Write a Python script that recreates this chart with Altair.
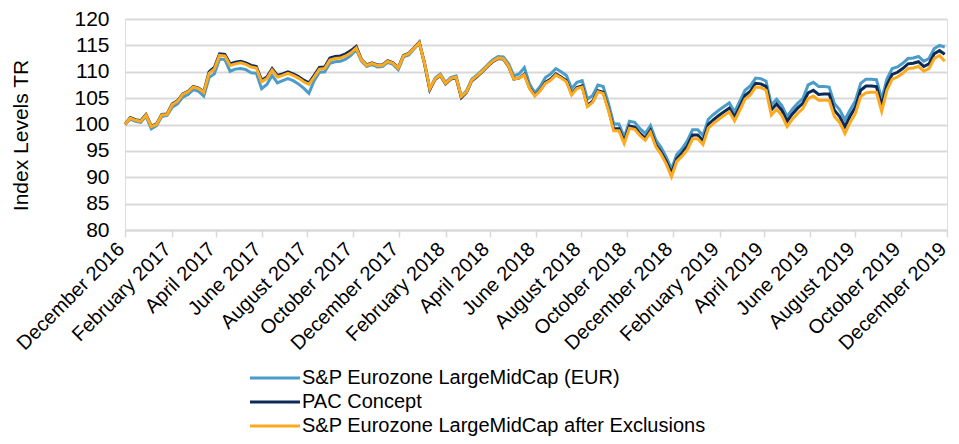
import altair as alt
import pandas as pd

# Weekly observations starting 1 Dec 2016
start_date = "2016-12-01"
n_weeks = 157

series_names = [
    "S&P Eurozone LargeMidCap (EUR)",
    "PAC Concept",
    "S&P Eurozone LargeMidCap after Exclusions",
]
series_colors = ["#4B9CC8", "#0B2A58", "#FFAA1E"]

eurozone = [
    100.0, 101.0, 100.6, 100.4, 101.6, 99.2, 99.8, 101.5, 101.7, 103.3,
    103.9, 105.2, 105.7, 106.6, 106.3, 105.4, 108.9, 109.6, 112.4, 112.3,
    110.1, 110.5, 110.6, 110.4, 109.8, 109.7, 106.8, 107.6, 109.3, 107.9,
    108.3, 108.7, 108.3, 107.7, 106.9, 105.9, 108.3, 109.9, 110.0, 111.6,
    111.9, 112.0, 112.4, 113.1, 114.2, 112.0, 111.0, 111.4, 110.9, 111.0,
    111.8, 111.4, 110.4, 112.8, 113.2, 114.3, 115.4, 111.8, 106.7, 108.8,
    109.6, 108.0, 108.9, 109.2, 105.4, 106.4, 108.6, 109.4, 110.3, 111.3,
    112.3, 112.9, 112.8, 111.5, 109.2, 109.6, 110.8, 107.6, 106.0, 107.2,
    108.9, 109.6, 110.6, 110.0, 109.3, 106.8, 108.0, 108.3, 104.8, 105.5,
    107.5, 107.2, 104.0, 100.1, 100.1, 97.6, 100.6, 100.4, 99.2, 98.3,
    99.8, 97.1, 95.7, 93.8, 91.6, 94.3, 95.4, 96.9, 99.0, 99.0,
    97.9, 101.0, 101.9, 102.7, 103.4, 104.1, 102.4, 104.4, 106.5, 107.3,
    108.8, 108.7, 108.2, 103.7, 104.8, 103.6, 101.5, 102.9, 104.0, 104.9,
    107.5, 108.0, 107.2, 107.2, 107.1, 104.0, 102.8, 100.9, 102.8, 104.5,
    107.8, 108.6, 108.6, 108.5, 104.8, 108.6, 110.6, 110.9, 111.6, 112.5,
    112.6, 112.9, 112.0, 112.5, 114.4, 115.0, 114.7,
]

pac = [
    100.0, 101.3, 100.9, 100.7, 101.9, 99.7, 100.1, 101.9, 102.0, 103.9,
    104.5, 105.8, 106.3, 107.2, 106.9, 106.2, 110.0, 110.8, 113.4, 113.3,
    111.5, 111.8, 112.0, 111.7, 111.2, 111.0, 108.4, 109.0, 110.6, 109.3,
    109.6, 110.0, 109.6, 109.1, 108.4, 107.9, 109.3, 110.8, 110.9, 112.6,
    112.9, 113.0, 113.4, 114.0, 114.8, 112.3, 111.3, 111.7, 111.3, 111.3,
    112.1, 111.7, 110.8, 113.1, 113.5, 114.5, 115.6, 111.5, 106.6, 108.5,
    109.3, 107.7, 108.6, 108.9, 105.1, 106.1, 108.3, 109.1, 110.0, 111.0,
    111.9, 112.5, 112.4, 111.0, 108.6, 108.8, 109.5, 106.9, 105.5, 106.5,
    108.0, 108.6, 109.6, 109.0, 108.3, 105.8, 107.0, 107.3, 103.6, 104.4,
    106.4, 106.1, 102.9, 99.2, 99.2, 96.8, 99.7, 99.5, 98.3, 97.4,
    98.9, 96.2, 94.8, 93.0, 90.8, 93.5, 94.6, 95.9, 98.0, 98.0,
    96.9, 100.0, 100.9, 101.7, 102.4, 103.1, 101.4, 103.4, 105.5, 106.3,
    107.8, 107.7, 107.2, 102.8, 103.9, 102.7, 100.6, 102.0, 103.1, 104.0,
    106.0, 106.5, 105.7, 105.8, 105.8, 102.7, 101.5, 99.6, 101.6, 103.3,
    106.5, 107.3, 107.3, 107.2, 103.6, 107.5, 109.5, 109.9, 110.6, 111.5,
    111.6, 111.9, 111.0, 111.5, 113.4, 114.0, 113.3,
]

after_exclusions = [
    100.0, 101.2, 100.8, 100.6, 101.8, 99.6, 100.0, 101.8, 101.9, 103.8,
    104.4, 105.7, 106.2, 107.1, 106.8, 106.1, 109.7, 110.5, 113.1, 113.0,
    111.2, 111.5, 111.7, 111.4, 110.9, 110.7, 108.1, 108.7, 110.3, 109.0,
    109.3, 109.7, 109.3, 108.8, 108.1, 107.6, 109.0, 110.5, 110.6, 112.2,
    112.5, 112.6, 113.0, 113.6, 114.5, 112.2, 111.2, 111.6, 111.2, 111.2,
    112.0, 111.6, 110.7, 113.0, 113.4, 114.4, 115.5, 111.6, 106.8, 108.6,
    109.4, 107.8, 108.7, 109.0, 105.3, 106.2, 108.4, 109.2, 110.1, 111.1,
    112.0, 112.6, 112.5, 111.1, 108.6, 108.8, 109.4, 106.8, 105.4, 106.4,
    107.8, 108.4, 109.4, 108.8, 108.1, 105.6, 106.8, 107.1, 103.4, 104.2,
    106.2, 105.9, 102.7, 98.8, 98.8, 96.4, 99.3, 99.1, 97.9, 97.0,
    98.5, 95.8, 94.4, 92.5, 90.1, 93.0, 94.0, 95.2, 97.3, 97.3,
    96.2, 99.3, 100.2, 101.0, 101.7, 102.4, 100.7, 102.7, 104.8, 105.6,
    107.1, 107.0, 106.5, 101.8, 102.9, 101.7, 99.6, 101.0, 102.1, 103.0,
    104.9, 105.4, 104.6, 104.6, 104.6, 101.5, 100.4, 98.3, 100.4, 102.1,
    105.3, 106.0, 106.1, 106.1, 102.5, 106.5, 108.6, 109.0, 109.7, 110.6,
    110.7, 111.0, 110.1, 110.6, 112.5, 113.1, 112.0,
]

y_ticks = [80, 85, 90, 95, 100, 105, 110, 115, 120]
x_tick_months = [
    (2016, 12), (2017, 2), (2017, 4), (2017, 6), (2017, 8), (2017, 10),
    (2017, 12), (2018, 2), (2018, 4), (2018, 6), (2018, 8), (2018, 10),
    (2018, 12), (2019, 2), (2019, 4), (2019, 6), (2019, 8), (2019, 10),
    (2019, 12),
]

dates = pd.date_range(start_date, periods=n_weeks, freq="7D")
frames = []
for name, vals in zip(series_names, [eurozone, pac, after_exclusions]):
    frames.append(pd.DataFrame({"date": dates, "value": vals, "series": name}))
df = pd.concat(frames, ignore_index=True)

FONT = "Liberation Sans"

x_enc = alt.X(
    "date:T",
    scale=alt.Scale(domain=[alt.DateTime(year=2016, month=12, date=1),
                            alt.DateTime(year=2019, month=12, date=1)], nice=False),
    axis=alt.Axis(
        values=[alt.DateTime(year=y, month=m, date=1) for y, m in x_tick_months],
        format="%B %Y",
        labelAngle=-45,
        labelAlign="right",
        labelBaseline="alphabetic",
        labelPadding=13,
        labelOffset=0,
        labelFontSize=20,
        labelColor="#000000",
        labelFont=FONT,
        labelOverlap=False,
        labelBound=False,
        labelFlush=False,
        grid=False,
        domainColor="#D9D9D9",
        domainWidth=2,
        tickColor="#D9D9D9",
        tickWidth=1.5,
        tickSize=7,
        title=None,
    ),
)

y_enc = alt.Y(
    "value:Q",
    scale=alt.Scale(domain=[80, 120], nice=False, zero=False),
    axis=alt.Axis(
        values=y_ticks,
        title="Index Levels TR",
        titleFontSize=21,
        titleFontWeight="normal",
        titleFont=FONT,
        titleColor="#000000",
        titleX=-104,
        titleY=116,
        titleAlign="center",
        titleBaseline="middle",
        titleAngle=270,
        labelFontSize=21,
        labelFont=FONT,
        labelColor="#000000",
        labelPadding=16,
        ticks=False,
        domain=False,
        grid=True,
        gridColor="#D9D9D9",
        gridWidth=2,
    ),
)

color_enc = alt.Color(
    "series:N",
    scale=alt.Scale(domain=series_names, range=series_colors),
    legend=alt.Legend(
        title=None,
        orient="none",
        legendX=140,
        legendY=349,
        direction="vertical",
        symbolType="M-5,0H5",
        symbolSize=100,
        symbolStrokeWidth=3,
        labelFontSize=20,
        labelFont=FONT,
        labelColor="#000000",
        labelOffset=17,
        rowPadding=4,
        padding=0,
        labelLimit=600,
    ),
)

layers = []
for name in series_names:
    layers.append(
        alt.Chart(df)
        .transform_filter(alt.datum.series == name)
        .mark_line(strokeWidth=3, interpolate="linear")
        .encode(x=x_enc, y=y_enc, color=color_enc)
    )

chart = (
    alt.layer(*layers)
    .properties(
        width=822,
        height=211,
        autosize=alt.AutoSizeParams(type="none"),
        padding={"left": 117, "top": 11, "right": 4, "bottom": 206},
    )
    .configure_view(stroke=None)
    .configure(font=FONT)
)

chart.save("out.html", embed_options={"renderer": "svg", "actions": False})
